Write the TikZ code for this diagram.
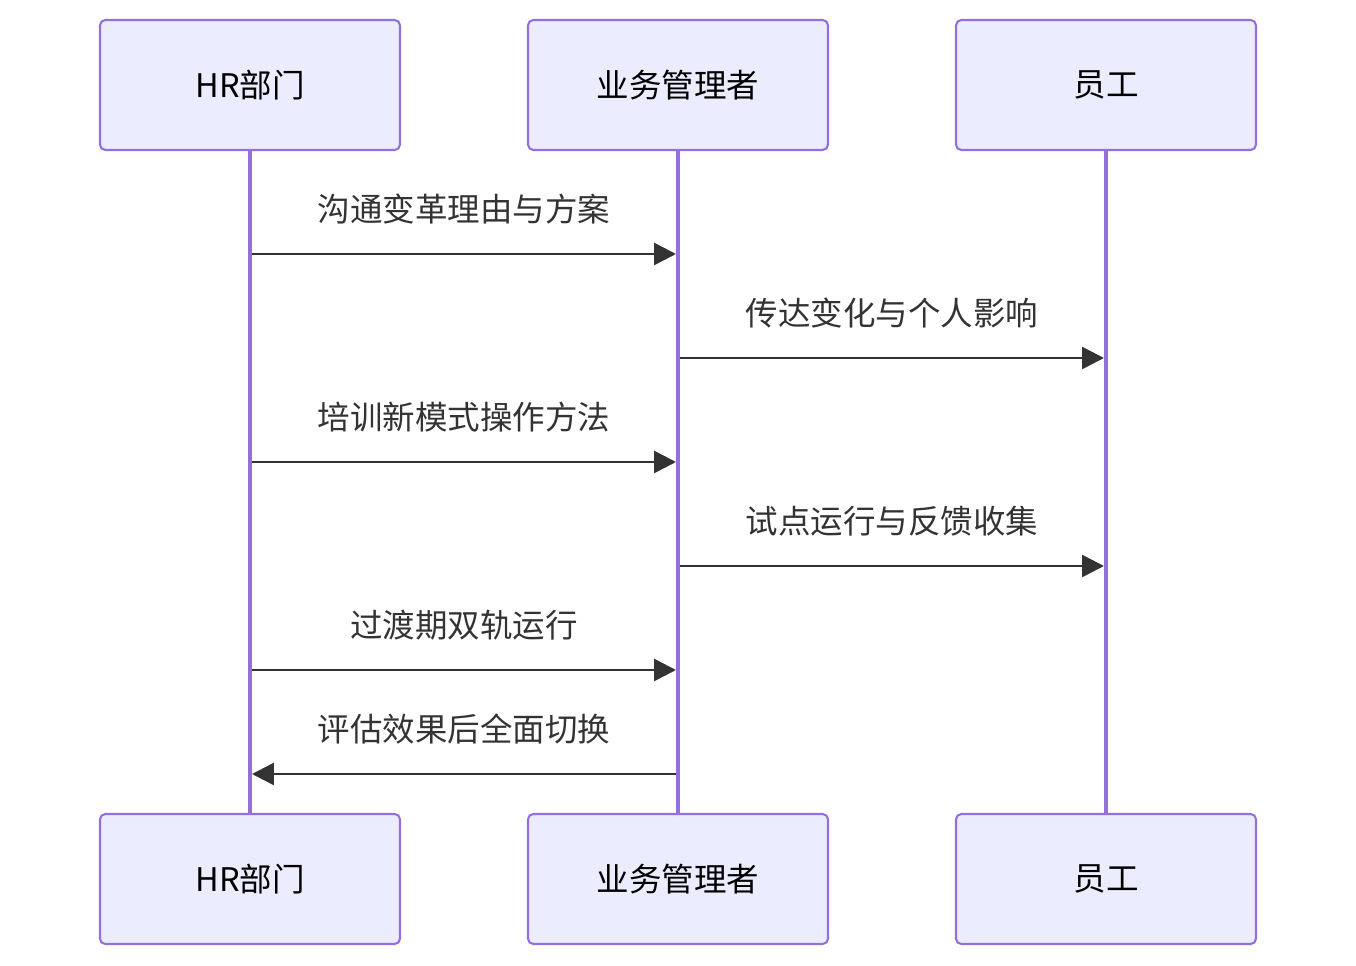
\documentclass[tikz,border=0pt]{standalone}
\usepackage{fontspec}
\setmainfont{Noto Sans CJK SC}
\usetikzlibrary{arrows.meta,positioning}
\definecolor{actorfill}{HTML}{ECECFF}
\definecolor{actorline}{HTML}{9370DB}
\definecolor{msgline}{HTML}{333333}
\tikzset{
  actor/.style={draw=actorline, fill=actorfill, line width=1.2pt, rounded corners=3pt,
    minimum width=6cm, minimum height=2.6cm, font=\fontsize{18.5}{22}\selectfont, text=black},
  lifeline/.style={draw=actorline, line width=2.2pt},
  msg/.style={draw=msgline, line width=1.5pt, -{Triangle[length=0.44cm,width=0.44cm]}},
  msglabel/.style={font=\fontsize{18.5}{22}\selectfont, text=msgline}
}
\begin{document}
\begin{tikzpicture}[x=0.02cm,y=-0.02cm]
    \useasboundingbox (0,0) rectangle (1356,966);
    % Actors, top and bottom
    \node[actor] (hrT) at (250,85) {HR部门};
    \node[actor] (mgT) at (678,85) {业务管理者};
    \node[actor] (emT) at (1106,85) {员工};
    \node[actor] (hrB) at (250,879) {HR部门};
    \node[actor] (mgB) at (678,879) {业务管理者};
    \node[actor] (emB) at (1106,879) {员工};
    % Lifelines
    \draw[lifeline] (hrT.south) -- (hrB.north);
    \draw[lifeline] (mgT.south) -- (mgB.north);
    \draw[lifeline] (emT.south) -- (emB.north);
    % Message end points
    \foreach \y/\n in {254/1,358/2,462/3,566/4,670/5,774/6} {
        \coordinate (hr\n) at (252,\y);
        \coordinate (mgl\n) at (676,\y);
        \coordinate (mgr\n) at (680,\y);
        \coordinate (em\n) at (1104,\y);
    }
    % Messages
    \draw[msg] (hr1) -- (mgl1) node[msglabel, midway, above=0.45cm] (l1) {沟通变革理由与方案};
    \draw[msg] (mgr2) -- (em2) node[msglabel, midway, above=0.45cm] (l2) {传达变化与个人影响};
    \draw[msg] (hr3) -- (mgl3) node[msglabel, midway, above=0.45cm] (l3) {培训新模式操作方法};
    \draw[msg] (mgr4) -- (em4) node[msglabel, midway, above=0.45cm] (l4) {试点运行与反馈收集};
    \draw[msg] (hr5) -- (mgl5) node[msglabel, midway, above=0.45cm] (l5) {过渡期双轨运行};
    \draw[msg] (mgl6) -- (hr6) node[msglabel, midway, above=0.45cm] (l6) {评估效果后全面切换};
\end{tikzpicture}
\end{document}
